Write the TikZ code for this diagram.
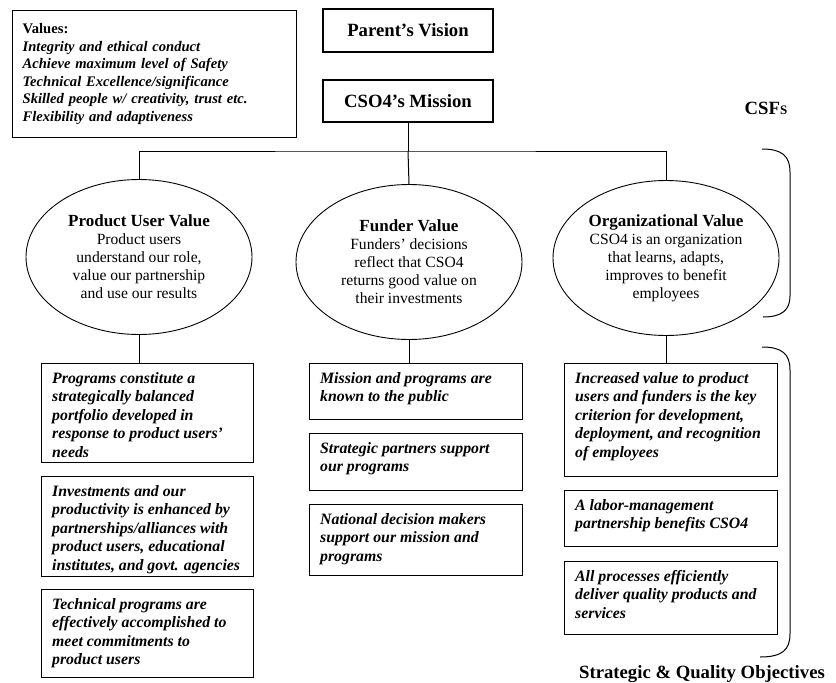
\documentclass[tikz,border=0pt]{standalone}
\usepackage{fontspec}
\setmainfont{Liberation Serif}
\usetikzlibrary{shapes.geometric}

\begin{document}
\begin{tikzpicture}[x=1pt,y=-1pt,
    cadre/.style={draw, line width=1.3pt, inner sep=0pt, anchor=north west},
    valeur/.style={draw, ellipse, line width=0.9pt, minimum width=226pt, minimum height=155pt,
        inner sep=0pt, align=center, font=\fontsize{15.6}{18}\selectfont},
    objectif/.style={anchor=north west, align=left, inner sep=0pt,
        font=\fontsize{15.8}{18.5}\selectfont\bfseries\itshape},
    titre/.style={font=\fontsize{18.7}{21}\selectfont\bfseries},
    lien/.style={line width=1pt}]

    % Cadre de l'image
    \clip (0,0) rectangle (836,683);

    % Valeurs
    \node[cadre, minimum width=284pt, minimum height=127pt, text width=264pt, inner xsep=10pt,
        align=left, font=\fontsize{14.6}{17.5}\selectfont\bfseries\itshape] (valeurs) at (12,10)
        {{\upshape Values:}\\
         Integrity and ethical conduct\\
         Achieve maximum level of Safety\\
         Technical Excellence/significance\\
         Skilled people w/ creativity, trust etc.\\
         Flexibility and adaptiveness};

    % Vision et mission
    \node[cadre, anchor=center, minimum width=170pt, minimum height=43pt, titre] (vision) at (408,30.5) {Parent’s Vision};
    \node[cadre, anchor=center, minimum width=170pt, minimum height=42pt, titre] (mission) at (408,101) {CSO4’s Mission};

    % Les trois valeurs (CSFs)
    \node[valeur] (usager) at (139,257)
        {{\fontsize{17}{20}\selectfont\bfseries Product User Value}\\
         Product users\\ understand our role,\\ value our partnership\\ and use our results};
    \node[valeur] (bailleur) at (409,262)
        {{\fontsize{17}{20}\selectfont\bfseries Funder Value}\\
         Funders’ decisions\\ reflect that CSO4\\ returns good value on\\ their investments};
    \node[valeur] (orga) at (666,258)
        {{\fontsize{17}{20}\selectfont\bfseries Organizational Value}\\
         CSO4 is an organization\\ that learns, adapts,\\ improves to benefit\\ employees};

    % Arborescence
    \coordinate (partage) at (408,151);
    \draw[lien] (mission) -- (partage);
    \draw[lien] (usager.north) |- (partage) -| (orga.north);
    \draw[lien] (partage) -- (bailleur.north);

    % Objectifs : colonne usagers
    \node[cadre, minimum width=212pt, minimum height=99pt] (usager1) at (41,363) {};
    \node[cadre, minimum width=212pt, minimum height=100pt] (usager2) at (41,476) {};
    \node[cadre, minimum width=212pt, minimum height=88pt] (usager3) at (41,589) {};
    \node[objectif] (t-usager1) at ([xshift=11pt,yshift=-9pt]usager1.north west)
        {Programs constitute a\\ strategically balanced\\ portfolio developed in\\ response to product users’\\ needs};
    \node[objectif] (t-usager2) at ([xshift=11pt,yshift=-9pt]usager2.north west)
        {Investments and our\\ productivity is enhanced by\\ partnerships/alliances with\\ product users, educational\\ institutes, and govt. agencies};
    \node[objectif] (t-usager3) at ([xshift=11pt,yshift=-9pt]usager3.north west)
        {Technical programs are\\ effectively accomplished to\\ meet commitments to\\ product users};

    % Objectifs : colonne bailleurs
    \node[cadre, minimum width=213pt, minimum height=56pt] (bailleur1) at (309,363) {};
    \node[cadre, minimum width=213pt, minimum height=57pt] (bailleur2) at (309,433) {};
    \node[cadre, minimum width=213pt, minimum height=71pt] (bailleur3) at (309,504) {};
    \node[objectif] (t-bailleur1) at ([xshift=11pt,yshift=-9pt]bailleur1.north west)
        {Mission and programs are\\ known to the public};
    \node[objectif] (t-bailleur2) at ([xshift=11pt,yshift=-9pt]bailleur2.north west)
        {Strategic partners support\\ our programs};
    \node[objectif] (t-bailleur3) at ([xshift=11pt,yshift=-9pt]bailleur3.north west)
        {National decision makers\\ support our mission and\\ programs};

    % Objectifs : colonne organisation
    \node[cadre, minimum width=213pt, minimum height=113pt] (orga1) at (564,363) {};
    \node[cadre, minimum width=213pt, minimum height=56pt] (orga2) at (564,490) {};
    \node[cadre, minimum width=213pt, minimum height=73pt] (orga3) at (564,561) {};
    \node[objectif] (t-orga1) at ([xshift=11pt,yshift=-9pt]orga1.north west)
        {Increased value to product\\ users and funders is the key\\ criterion for development,\\ deployment, and recognition\\ of employees};
    \node[objectif] (t-orga2) at ([xshift=11pt,yshift=-9pt]orga2.north west)
        {A labor-management\\ partnership benefits CSO4};
    \node[objectif] (t-orga3) at ([xshift=11pt,yshift=-9pt]orga3.north west)
        {All processes efficiently\\ deliver quality products and\\ services};

    % Liens valeurs -> objectifs
    \foreach \v in {usager,bailleur,orga}
        \draw[lien] (\v.south) -- (\v.south |- \v1.north);

    % Accolades et titres
    \draw[lien] (762,149) .. controls (782,149) and (790,156) .. (790,172) -- (790,296)
        .. controls (790,310) and (782,317) .. (763,317);
    \draw[lien] (762,347) .. controls (782,347) and (790,354) .. (790,370) -- (790,634)
        .. controls (790,650) and (782,657) .. (760,657);
    \node[titre] (csf) at (766,108) {CSF{\fontsize{13}{15}\selectfont S}};
    \node[titre, anchor=base] (objectifs) at (702,678) {Strategic \& Quality Objectives};
\end{tikzpicture}
\end{document}
